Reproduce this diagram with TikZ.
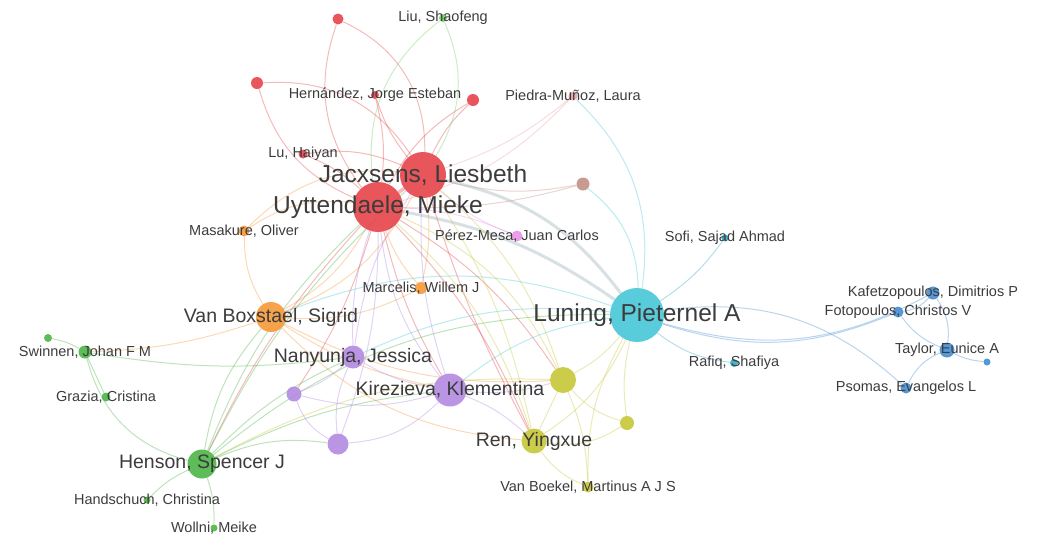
\documentclass[tikz,border=0pt]{standalone}
\usepackage{fontspec}
\setmainfont{Liberation Sans}
\pgfdeclarelayer{edges}
\pgfsetlayers{edges,main}
\definecolor{cRed}{RGB}{230,72,78}
\definecolor{cOrange}{RGB}{245,155,60}
\definecolor{cGreen}{RGB}{80,182,75}
\definecolor{cLgreen}{RGB}{120,205,105}
\definecolor{cPurple}{RGB}{180,140,226}
\definecolor{cYellow}{RGB}{200,200,60}
\definecolor{cCyan}{RGB}{75,200,216}
\definecolor{cTeal}{RGB}{55,172,195}
\definecolor{cBlue}{RGB}{72,142,210}
\definecolor{cBrown}{RGB}{195,145,135}
\definecolor{cPink}{RGB}{236,150,232}
\definecolor{cPiedra}{RGB}{232,165,172}
\definecolor{cMix}{RGB}{150,175,182}
\definecolor{cText}{RGB}{60,60,60}
\tikzset{
  dot/.style={circle, inner sep=0pt, draw=none, minimum size=#1, fill opacity=.92},
  lab/.style={text=cText, inner sep=0pt, font=\fontsize{14.5}{15}\selectfont},
  labm/.style={lab, font=\fontsize{19.5}{20}\selectfont},
  labl/.style={lab, font=\fontsize{24.5}{25}\selectfont},
  edge/.style={line width=1pt, opacity=.38},
}
\newcommand\edg[5][1]{\draw[edge, draw=#2, line width=#1pt] (#3) to[bend left=#5] (#4);}
\begin{document}
\begin{tikzpicture}[x=1pt,y=-1pt]
\useasboundingbox (0,0) rectangle (1037,539);
% nodes
\node[dot=50pt, fill=cRed] (U) at (378,207) {};
\node[dot=46pt, fill=cRed] (J) at (423,175) {};
\node[dot=11pt, fill=cRed] (r1) at (338,19) {};
\node[dot=8pt, fill=cLgreen] (liu) at (443,18) {};
\node[dot=12pt, fill=cRed] (r2) at (257,83) {};
\node[dot=8pt, fill=cRed] (hern) at (375,95) {};
\node[dot=12pt, fill=cRed] (r3) at (473,100) {};
\node[dot=9pt, fill=cPiedra] (pied) at (573,96) {};
\node[dot=9pt, fill=cRed] (lu) at (303,154) {};
\node[dot=13pt, fill=cBrown] (brn) at (583,184) {};
\node[dot=11pt, fill=cOrange] (mas) at (244,231) {};
\node[dot=11pt, fill=cPink] (pm) at (517,236) {};
\node[dot=7pt, fill=cTeal] (sofi) at (725,238) {};
\node[dot=12pt, fill=cOrange] (marc) at (421,288) {};
\node[dot=30pt, fill=cOrange] (vb) at (271,317) {};
\node[dot=54pt, fill=cCyan] (lun) at (637,315) {};
\node[dot=13pt, fill=cBlue] (kaf) at (933,293) {};
\node[dot=11pt, fill=cBlue] (fot) at (898,312) {};
\node[dot=15pt, fill=cBlue] (tay) at (947,350) {};
\node[dot=7pt, fill=cBlue] (bs) at (987,362) {};
\node[dot=11pt, fill=cBlue] (pso) at (906,388) {};
\node[dot=8pt, fill=cTeal] (raf) at (734,363) {};
\node[dot=8pt, fill=cGreen] (g0) at (48,338) {};
\node[dot=13pt, fill=cGreen] (swi) at (85,352) {};
\node[dot=9pt, fill=cGreen] (gra) at (106,397) {};
\node[dot=23pt, fill=cPurple] (nan) at (353,357) {};
\node[dot=15pt, fill=cPurple] (ps) at (294,394) {};
\node[dot=33pt, fill=cPurple] (kir) at (450,390) {};
\node[dot=21pt, fill=cPurple] (pb) at (338,444) {};
\node[dot=26pt, fill=cYellow] (yb) at (563,380) {};
\node[dot=14pt, fill=cYellow] (ys) at (627,423) {};
\node[dot=25pt, fill=cYellow] (ren) at (534,441) {};
\node[dot=11pt, fill=cYellow] (vbk) at (588,487) {};
\node[dot=29pt, fill=cGreen] (hen) at (202,464) {};
\node[dot=7pt, fill=cGreen] (hand) at (147,500) {};
\node[dot=7pt, fill=cGreen] (wol) at (214,528) {};
% edges
\begin{pgfonlayer}{edges}
\edg[3.5]{cRed}{U}{J}{0}
\edg[3]{cMix}{J}{lun}{20}
\edg[3]{cMix}{U}{lun}{12}
\edg{cRed}{U}{r1}{28}
\edg{cRed}{r1}{J}{33}
\edg{cRed}{r2}{J}{30}
\edg{cRed}{r2}{U}{-25}
\edg{cRed}{hern}{U}{10}
\edg{cRed}{hern}{J}{-10}
\edg{cRed}{r3}{U}{-15}
\edg{cRed}{r3}{J}{-10}
\edg{cRed}{lu}{U}{10}
\edg{cRed}{lu}{J}{15}
\edg{cLgreen}{liu}{U}{-30}
\edg{cLgreen}{liu}{J}{27}
\edg{cPiedra}{pied}{J}{10}
\edg{cPiedra}{pied}{U}{15}
\edg{cCyan}{pied}{lun}{27}
\edg{cBrown}{brn}{U}{8}
\edg{cBrown}{brn}{J}{12}
\edg{cCyan}{brn}{lun}{25}
\edg{cOrange}{mas}{J}{25}
\edg{cOrange}{mas}{U}{20}
\edg{cOrange}{mas}{vb}{-15}
\edg{cPink}{pm}{U}{-10}
\edg{cPink}{pm}{J}{10}
\edg{cOrange}{marc}{U}{10}
\edg{cOrange}{marc}{J}{-10}
\edg{cOrange}{marc}{vb}{15}
\edg{cOrange}{vb}{U}{-15}
\edg{cOrange}{vb}{J}{-20}
\edg{cOrange}{vb}{swi}{8}
\edg{cCyan}{vb}{lun}{20}
\edg{cOrange}{vb}{ren}{-20}
\edg{cOrange}{vb}{yb}{-15}
\edg{cOrange}{vb}{kir}{-10}
\edg{cRed}{U}{kir}{-8}
\edg{cRed}{U}{ren}{10}
\edg{cRed}{U}{yb}{12}
\edg{cRed}{U}{ps}{8}
\edg{cRed}{U}{hen}{-8}
\edg{cRed}{J}{ren}{-5}
\edg{cPurple}{nan}{U}{10}
\edg{cPurple}{nan}{J}{12}
\edg{cPurple}{kir}{U}{15}
\edg{cPurple}{kir}{J}{10}
\edg{cPurple}{pb}{U}{-10}
\edg{cYellow}{yb}{U}{-20}
\edg{cYellow}{yb}{J}{-15}
\edg{cYellow}{ren}{U}{-15}
\edg{cYellow}{ren}{J}{-10}
\edg{cGreen}{hen}{vb}{15}
\edg{cGreen}{hen}{U}{12}
\edg{cGreen}{hen}{J}{10}
\edg{cGreen}{hen}{lun}{20}
\edg{cGreen}{hen}{nan}{10}
\edg{cGreen}{hen}{kir}{10}
\edg{cGreen}{hen}{pb}{15}
\edg{cYellow}{hen}{yb}{15}
\edg{cGreen}{swi}{hen}{-30}
\edg{cGreen}{swi}{gra}{0}
\edg{cGreen}{swi}{g0}{-10}
\edg{cGreen}{hen}{hand}{-10}
\edg{cGreen}{hen}{wol}{10}
\edg{cGreen}{swi}{nan}{-8}
\edg{cPurple}{nan}{kir}{-10}
\edg{cPurple}{ps}{nan}{-10}
\edg{cPurple}{ps}{kir}{-15}
\edg{cPurple}{ps}{pb}{-20}
\edg{cPurple}{pb}{nan}{15}
\edg{cPurple}{pb}{kir}{-20}
\edg{cCyan}{nan}{lun}{15}
\edg{cCyan}{kir}{lun}{15}
\edg{cYellow}{yb}{lun}{-10}
\edg{cYellow}{yb}{ren}{0}
\edg{cYellow}{yb}{vbk}{10}
\edg{cYellow}{yb}{ys}{-15}
\edg{cYellow}{ren}{lun}{-15}
\edg{cYellow}{ren}{vbk}{-15}
\edg{cYellow}{ren}{ys}{-20}
\edg{cYellow}{vbk}{lun}{15}
\edg{cYellow}{ys}{lun}{10}
\edg{cPurple}{kir}{yb}{-10}
\edg{cPurple}{kir}{ren}{10}
\edg{cBlue}{lun}{fot}{-20}
\edg{cBlue}{lun}{kaf}{-22}
\edg{cBlue}{lun}{pso}{25}
\edg{cBlue}{kaf}{fot}{20}
\edg{cBlue}{fot}{tay}{-15}
\edg{cBlue}{kaf}{tay}{20}
\edg{cBlue}{tay}{bs}{-10}
\edg{cBlue}{tay}{pso}{-20}
\edg{cTeal}{lun}{sofi}{-10}
\edg{cTeal}{lun}{raf}{-15}
\end{pgfonlayer}
% labels
\node[labl] at (J) {Jacxsens, Liesbeth};
\node[labl] at (U) {Uyttendaele, Mieke};
\node[labl] at (lun) {Luning, Pieternel A};
\node[labm] at (vb) {Van Boxstael, Sigrid};
\node[labm] at (nan) {Nanyunja, Jessica};
\node[labm] at (kir) {Kirezieva, Klementina};
\node[labm] at (ren) {Ren, Yingxue};
\node[labm] at (hen) {Henson, Spencer J};
\node[lab] at (liu) {Liu, Shaofeng};
\node[lab] at (hern) {Hernández, Jorge Esteban};
\node[lab] at (pied) {Piedra-Muñoz, Laura};
\node[lab] at (lu) {Lu, Haiyan};
\node[lab] at (mas) {Masakure, Oliver};
\node[lab] at (pm) {Pérez-Mesa, Juan Carlos};
\node[lab] at (sofi) {Sofi, Sajad Ahmad};
\node[lab] at (marc) {Marcelis, Willem J};
\node[lab] at (kaf) {Kafetzopoulos, Dimitrios P};
\node[lab] at (fot) {Fotopoulos, Christos V};
\node[lab] at (tay) {Taylor, Eunice A};
\node[lab] at (pso) {Psomas, Evangelos L};
\node[lab] at (raf) {Rafiq, Shafiya};
\node[lab] at (swi) {Swinnen, Johan F M};
\node[lab] at (gra) {Grazia, Cristina};
\node[lab] at (vbk) {Van Boekel, Martinus A J S};
\node[lab] at (hand) {Handschuch, Christina};
\node[lab] at (wol) {Wollni, Meike};
\end{tikzpicture}
\end{document}
